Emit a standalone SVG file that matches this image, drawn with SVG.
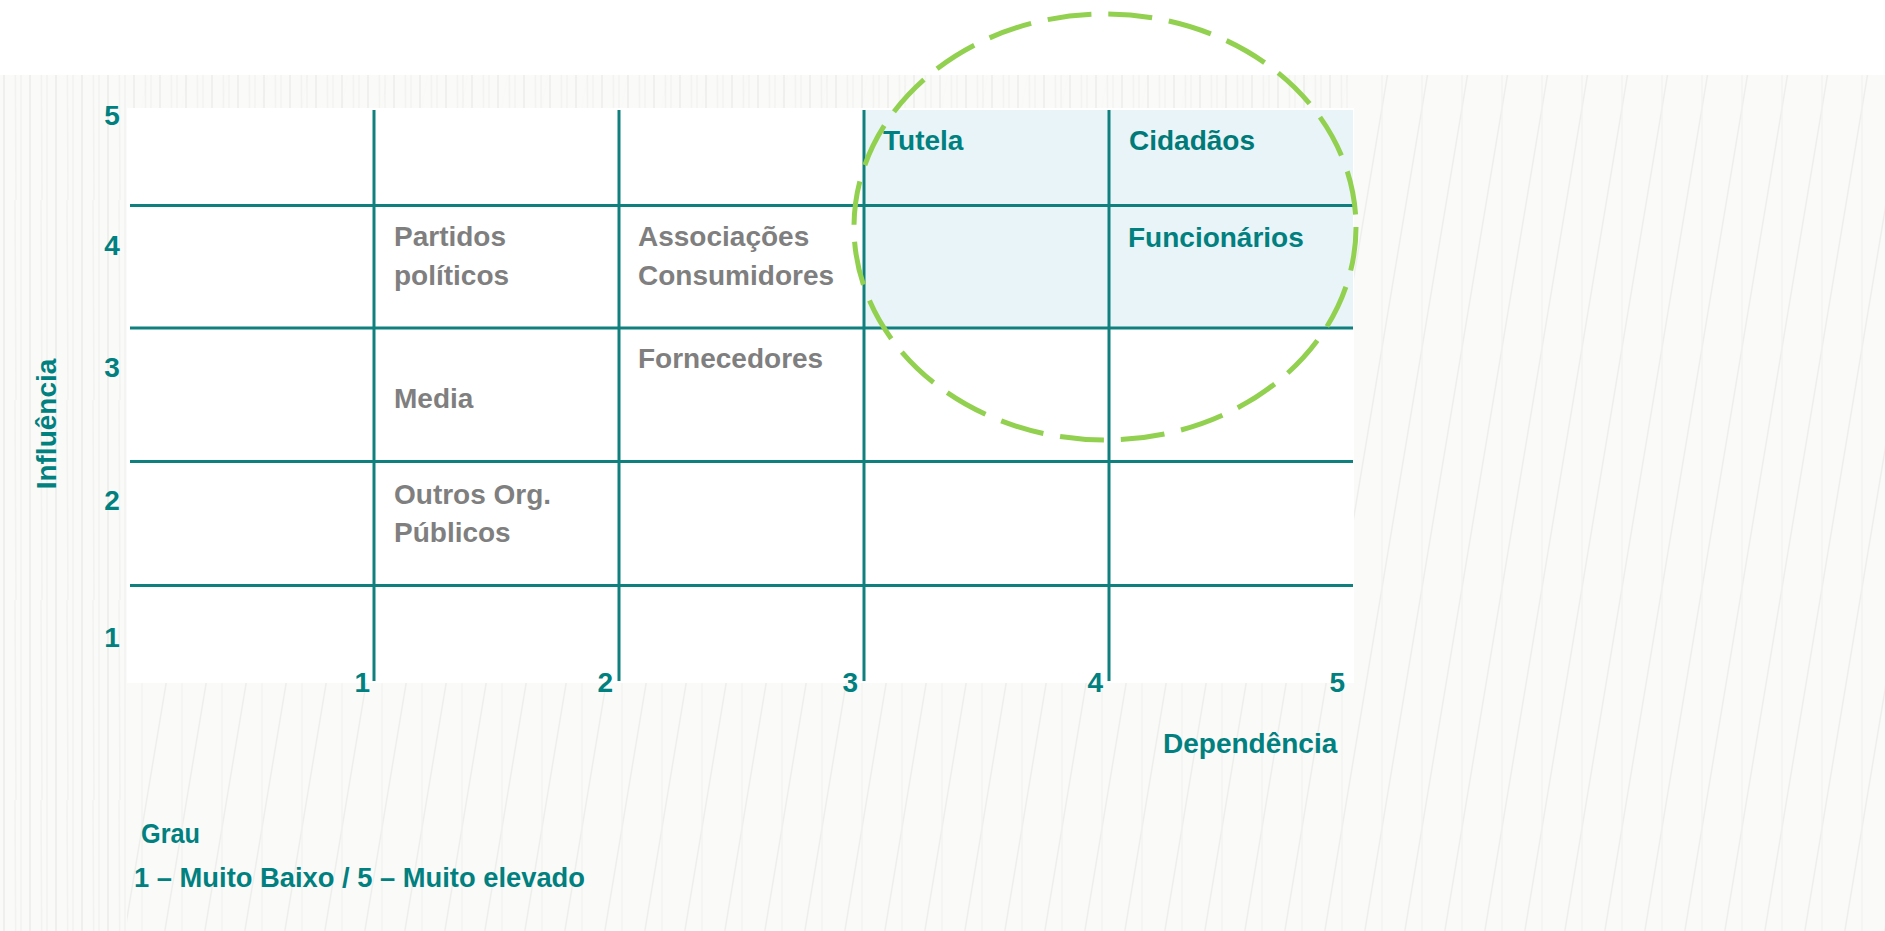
<svg xmlns="http://www.w3.org/2000/svg" width="1885" height="931" viewBox="0 0 1885 931">
  <defs>
    <pattern id="tex" patternUnits="userSpaceOnUse" width="40" height="240">
      <rect width="40" height="240" fill="#fafaf9"/>
      <line x1="0" y1="240" x2="40" y2="0" stroke="#eeeeec" stroke-width="1.4"/>
      <line x1="-40" y1="240" x2="0" y2="0" stroke="#eeeeec" stroke-width="1.4"/>
      <line x1="40" y1="240" x2="80" y2="0" stroke="#eeeeec" stroke-width="1.4"/>
      <line x1="22" y1="0" x2="22" y2="240" stroke="#f2f2f0" stroke-width="1.2"/>
    </pattern>
    <pattern id="vtex" patternUnits="userSpaceOnUse" width="26" height="200">
      <rect width="26" height="200" fill="#fafaf9"/>
      <line x1="4" y1="0" x2="4" y2="200" stroke="#efefed" stroke-width="2"/>
      <line x1="15" y1="0" x2="16" y2="200" stroke="#f2f2f0" stroke-width="1.5"/>
      <line x1="21" y1="0" x2="21" y2="200" stroke="#efefed" stroke-width="1"/>
    </pattern>
    <style>
      .t { font-family: "Liberation Sans", Arial, sans-serif; font-weight: bold; font-size: 28px; }
      .teal { fill: #00807f; }
      .grey { fill: #7f7f7f; }
      .gl { stroke: #0f807e; stroke-width: 3; fill: none; }
    </style>
  </defs>

  <!-- background -->
  <rect x="0" y="0" width="1885" height="931" fill="#ffffff"/>
  <rect x="0" y="75" width="1885" height="856" fill="url(#tex)"/>
  <rect x="0" y="75" width="127" height="856" fill="url(#vtex)"/>
  <rect x="127" y="75" width="1226" height="33" fill="url(#vtex)" opacity="0.9"/>

  <!-- table background -->
  <rect id="table-bg" x="127" y="108" width="1227" height="575" fill="#ffffff"/>
  <rect id="highlight" x="864" y="110" width="489" height="218" fill="#e8f4f7"/>

  <!-- grid lines -->
  <g id="grid" class="gl">
    <line x1="130" y1="205.5" x2="1353" y2="205.5"/>
    <line x1="130" y1="328" x2="1353" y2="328"/>
    <line x1="130" y1="461.5" x2="1353" y2="461.5"/>
    <line x1="130" y1="585.5" x2="1353" y2="585.5"/>
    <line x1="374" y1="110" x2="374" y2="681"/>
    <line x1="619" y1="110" x2="619" y2="681"/>
    <line x1="864" y1="110" x2="864" y2="681"/>
    <line x1="1109" y1="110" x2="1109" y2="681"/>
  </g>

  <!-- axis numbers -->
  <g id="y-axis" class="t teal" text-anchor="middle">
    <text x="112" y="125">5</text>
    <text x="112" y="255">4</text>
    <text x="112" y="377">3</text>
    <text x="112" y="510">2</text>
    <text x="112" y="647">1</text>
  </g>
  <g id="x-axis" class="t teal" text-anchor="end">
    <text x="370" y="692">1</text>
    <text x="613" y="692">2</text>
    <text x="858" y="692">3</text>
    <text x="1103" y="692">4</text>
    <text x="1345" y="692">5</text>
  </g>

  <text id="label-influencia" class="t teal" text-anchor="middle" transform="translate(56,424) rotate(-90)">Influência</text>
  <text id="label-dependencia" class="t teal" x="1163" y="753">Dependência</text>

  <!-- stakeholders -->
  <g id="partidos" class="t grey">
    <text x="394" y="246">Partidos</text>
    <text x="394" y="285">políticos</text>
  </g>
  <g id="associacoes" class="t grey">
    <text x="638" y="246">Associações</text>
    <text x="638" y="285">Consumidores</text>
  </g>
  <g id="fornecedores" class="t grey">
    <text x="638" y="368">Fornecedores</text>
  </g>
  <g id="media" class="t grey">
    <text x="394" y="408">Media</text>
  </g>
  <g id="outros" class="t grey">
    <text x="394" y="504">Outros Org.</text>
    <text x="394" y="542">Públicos</text>
  </g>
  <g id="tutela" class="t teal">
    <text x="883" y="150">Tutela</text>
  </g>
  <g id="cidadaos" class="t teal">
    <text x="1129" y="150" fill="#007a78">Cidadãos</text>
  </g>
  <g id="funcionarios" class="t teal">
    <text x="1128" y="247">Funcionários</text>
  </g>

  <!-- legend -->
  <g id="legend" class="t teal">
    <text x="141" y="843" textLength="59" lengthAdjust="spacingAndGlyphs">Grau</text>
    <text x="134" y="887" textLength="451" lengthAdjust="spacingAndGlyphs">1 – Muito Baixo / 5 – Muito elevado</text>
  </g>

  <!-- highlight ellipse -->
  <g id="connectors">
    <ellipse id="focus-ellipse" cx="1105" cy="227" rx="251" ry="213" fill="none" stroke="#92d050" stroke-width="5" stroke-dasharray="44 17"/>
  </g>
</svg>
